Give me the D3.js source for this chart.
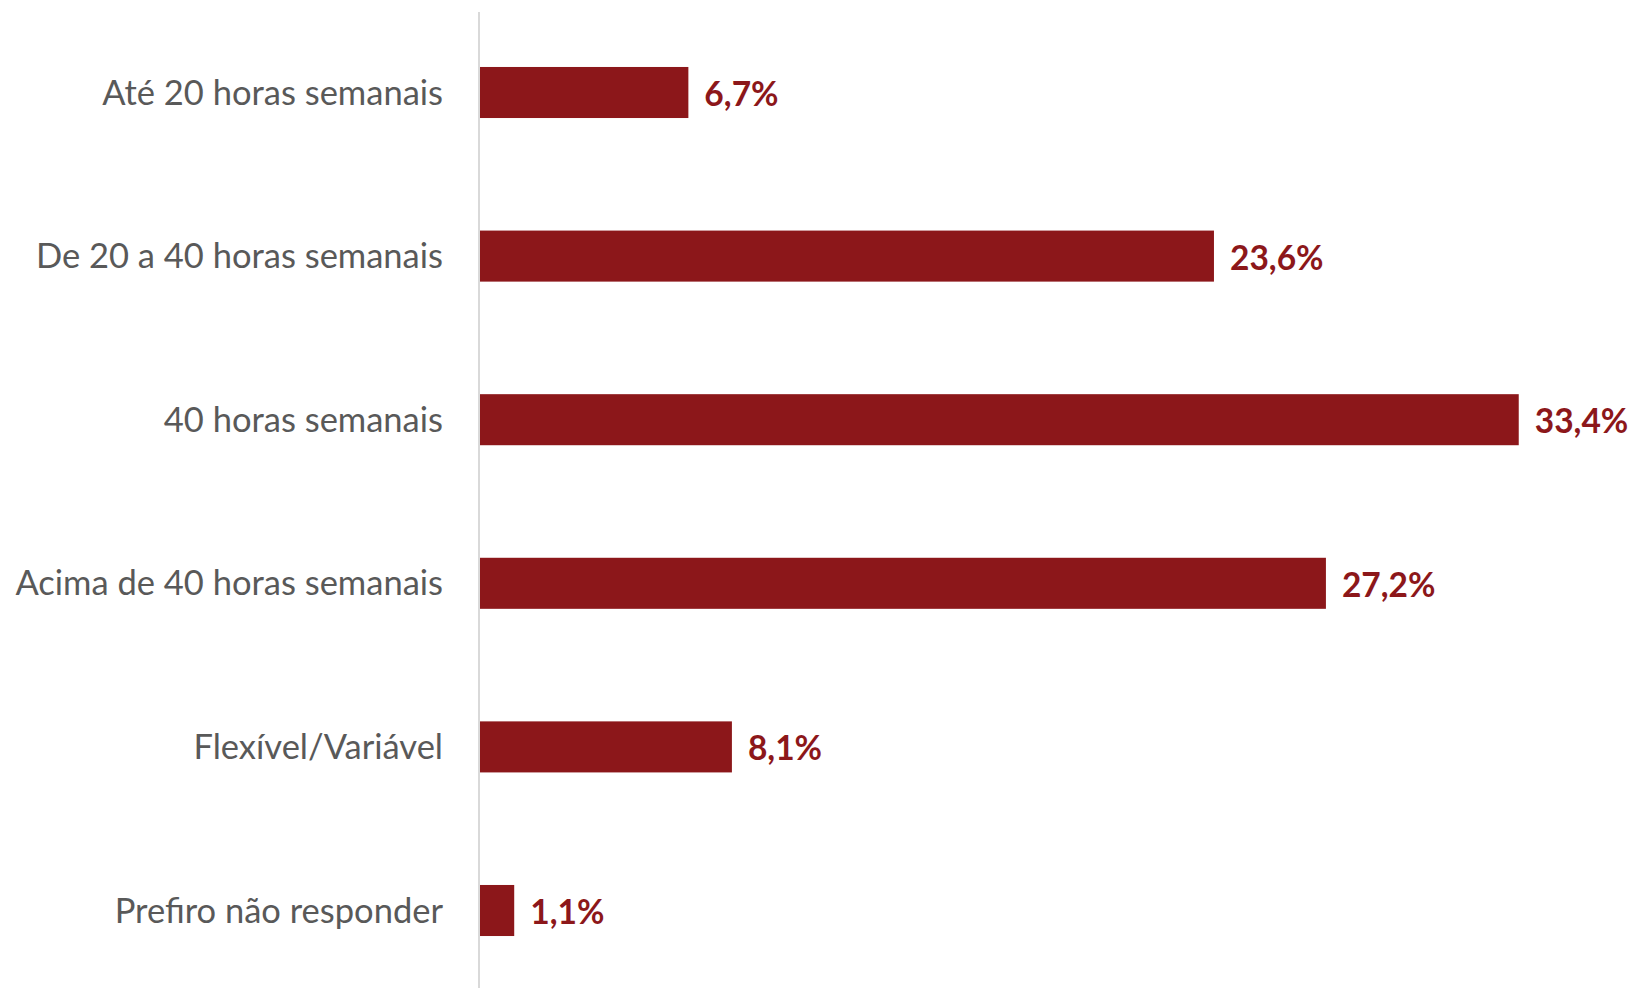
<!DOCTYPE html>
<html>
<head>
<meta charset="utf-8">
<script src="https://cdn.jsdelivr.net/npm/d3@7"></script>
<style>
  html, body { margin: 0; padding: 0; background: #fff; }
  svg { display: block; }
</style>
</head>
<body>
<svg id="chart" width="1634" height="988"></svg>
<script>
// Weekly working-hours distribution (% of respondents)
const categories = [
  "Até 20 horas semanais",
  "De 20 a 40 horas semanais",
  "40 horas semanais",
  "Acima de 40 horas semanais",
  "Flexível/Variável",
  "Prefiro não responder"
];
const values = [6.7, 23.6, 33.4, 27.2, 8.1, 1.1];
const valueLabels = ["6,7%", "23,6%", "33,4%", "27,2%", "8,1%", "1,1%"];

const W = 1634, H = 988;
const axisX = 480;
const barColor = "#8C171A";
const fontFamily = "Lato, 'Open Sans', 'Noto Sans', sans-serif";

const svg = d3.select("#chart");

const x = d3.scaleLinear().domain([0, 35]).range([axisX, axisX + 35 * 31.1]);
const y = d3.scaleBand()
  .domain(categories)
  .range([10.7, 992.3])
  .paddingInner(0.688)
  .paddingOuter(0.344);

const data = categories.map((c, i) => ({ cat: c, v: values[i], label: valueLabels[i] }));

// bars
svg.append("g").selectAll("rect")
  .data(data)
  .join("rect")
  .attr("x", x(0))
  .attr("y", d => y(d.cat))
  .attr("width", d => x(d.v) - x(0))
  .attr("height", y.bandwidth())
  .attr("fill", barColor);

// category axis
const yAxis = d3.axisLeft(y).tickSize(0).tickPadding(36);
const gAxis = svg.append("g")
  .attr("transform", `translate(${axisX - 1},0)`)
  .call(yAxis);
gAxis.select(".domain").remove();
gAxis.selectAll("text")
  .attr("font-family", fontFamily)
  .attr("font-size", 34.5)
  .attr("fill", "#595959")
  .attr("dy", "0.35em");

// vertical axis line
svg.append("line")
  .attr("x1", axisX - 1).attr("x2", axisX - 1)
  .attr("y1", 12).attr("y2", H)
  .attr("stroke", "#D9D9D9")
  .attr("stroke-width", 2);

// value labels
svg.append("g").selectAll("text")
  .data(data)
  .join("text")
  .attr("x", d => x(d.v) + 16)
  .attr("y", d => y(d.cat) + y.bandwidth() / 2)
  .attr("dy", "0.4em")
  .attr("font-family", fontFamily)
  .attr("font-weight", "bold")
  .attr("font-size", 33.5)
  .attr("fill", barColor)
  .text(d => d.label);
</script>
</body>
</html>
